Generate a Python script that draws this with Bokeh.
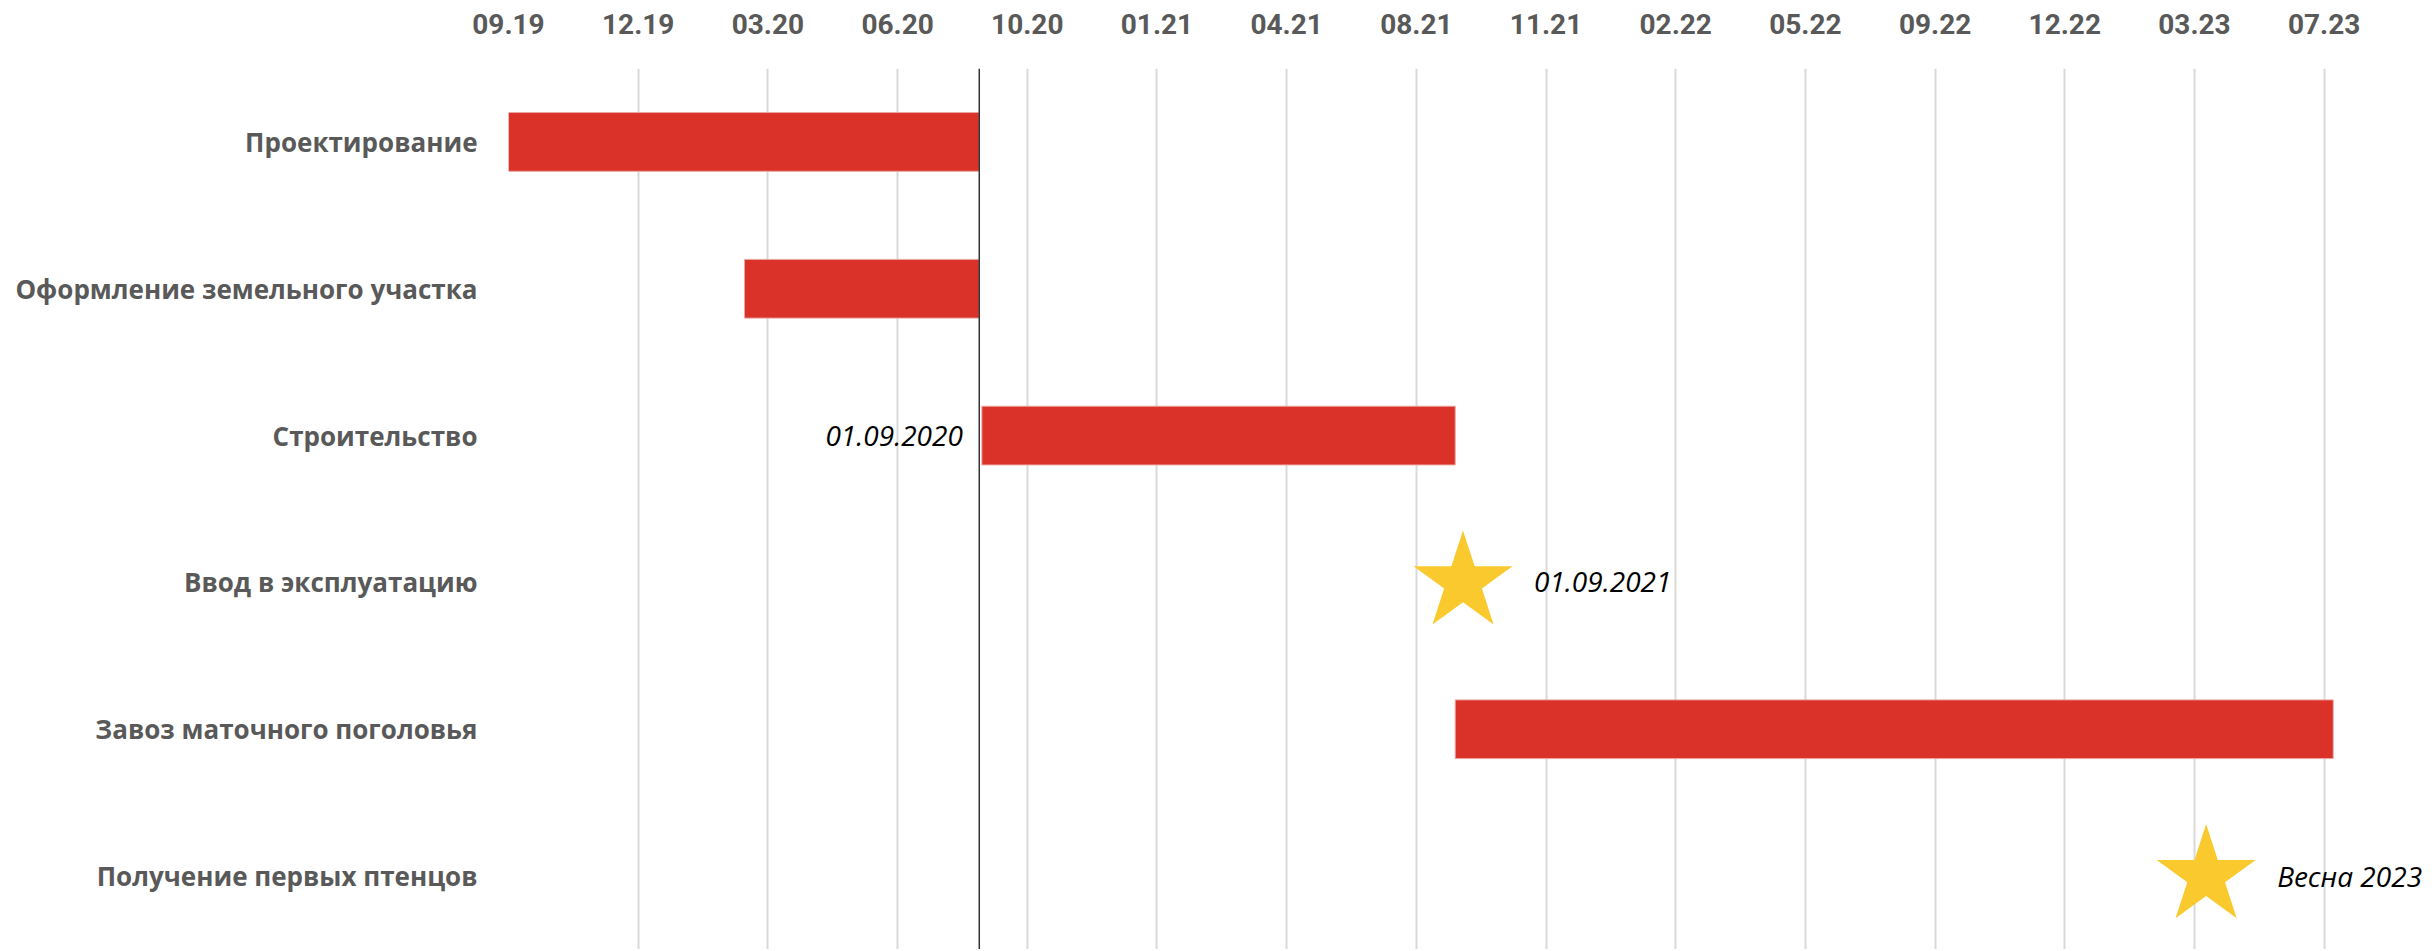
import pandas as pd
from bokeh.plotting import figure
from bokeh.models import ColumnDataSource, FactorRange, FixedTicker, Span, LabelSet, Range1d
from bokeh.core.properties import value
from bokeh.embed import file_html
from bokeh.resources import INLINE

# ---- data ----
tasks = [
    "Проектирование",
    "Оформление земельного участка",
    "Строительство",
    "Ввод в эксплуатацию",
    "Завоз маточного поголовья",
    "Получение первых птенцов",
]
bar_tasks = ["Проектирование", "Оформление земельного участка", "Строительство", "Завоз маточного поголовья"]
bar_start = ["2019-09-01", "2020-03-01", "2020-08-31", "2021-08-31"]
bar_end = ["2020-08-29", "2020-08-29", "2021-08-31", "2023-07-09"]

milestone_tasks = ["Ввод в эксплуатацию", "Получение первых птенцов"]
milestone_dates = ["2021-09-06", "2023-04-02"]
milestone_labels = ["01.09.2021", "Весна 2023"]

start_label_tasks = ["Строительство"]
start_label_dates = ["2020-08-31"]
start_label_texts = ["01.09.2020"]

marker_line_date = "2020-08-29"

axis_start = "2019-09-01"
axis_end = "2023-09-22"
tick_step_days = 100
tick_labels = ["09.19", "12.19", "03.20", "06.20", "10.20", "01.21", "04.21", "08.21",
               "11.21", "02.22", "05.22", "09.22", "12.22", "03.23", "07.23"]


def ms(d):
    return int(pd.Timestamp(d).value // 10**6)


tick_ms = [ms(pd.Timestamp(axis_start) + pd.Timedelta(days=tick_step_days * i)) for i in range(len(tick_labels))]

GREY = "#595959"
RED = "#DA3129"
YELLOW = "#FAC92E"

p = figure(
    width=2430, height=949,
    x_axis_type="datetime", x_axis_location="above",
    y_range=FactorRange(factors=list(reversed(tasks))),
    x_range=Range1d(ms(axis_start), ms(axis_end)),
    output_backend="svg", toolbar_location=None,
    min_border_left=508, min_border_right=0, min_border_top=68, min_border_bottom=0,
)
p.outline_line_color = None
p.background_fill_color = "white"

ticker = FixedTicker(ticks=tick_ms)
p.xaxis.ticker = ticker
p.xgrid.ticker = ticker
p.xaxis.major_label_overrides = {t: lab for t, lab in zip(tick_ms, tick_labels)}
p.xaxis.axis_line_color = None
p.xaxis.major_tick_line_color = None
p.xaxis.minor_tick_line_color = None
p.xaxis.major_tick_out = 0
p.xaxis.major_label_standoff = 35
p.xaxis.major_label_text_font = "Roboto"
p.xaxis.major_label_text_font_style = "bold"
p.xaxis.major_label_text_font_size = "28px"
p.xaxis.major_label_text_color = GREY

p.yaxis.axis_line_color = None
p.yaxis.major_tick_line_color = None
p.yaxis.minor_tick_line_color = None
p.yaxis.major_tick_out = 0
p.yaxis.major_label_standoff = 31
p.yaxis.major_label_text_font = "Open Sans"
p.yaxis.major_label_text_font_style = "bold"
p.yaxis.major_label_text_font_size = "26px"
p.yaxis.major_label_text_color = GREY

p.xgrid.grid_line_color = "#d9d9d9"
p.xgrid.grid_line_width = 2
p.ygrid.grid_line_color = None

bars = ColumnDataSource(dict(
    task=bar_tasks,
    start=pd.to_datetime(bar_start),
    end=pd.to_datetime(bar_end),
))
p.hbar(y="task", left="start", right="end", height=0.4, source=bars,
       fill_color=RED, line_color="#eaa6a2", line_width=1)

ms_src = ColumnDataSource(dict(
    task=milestone_tasks,
    date=pd.to_datetime(milestone_dates),
    label=milestone_labels,
))
p.scatter(x="date", y="task", source=ms_src, marker="star", size=104,
          fill_color=YELLOW, line_color=None)

p.add_layout(LabelSet(x="date", y="task", text="label", source=ms_src,
                      x_offset=71, text_baseline="middle", text_align="left",
                      text_font=value("Open Sans"), text_font_style=value("italic"),
                      text_font_size=value("28px"), text_color=value("black")))

sl_src = ColumnDataSource(dict(
    task=start_label_tasks,
    date=pd.to_datetime(start_label_dates),
    label=start_label_texts,
))
p.add_layout(LabelSet(x="date", y="task", text="label", source=sl_src,
                      x_offset=-19, text_baseline="middle", text_align="right",
                      text_font=value("Open Sans"), text_font_style=value("italic"),
                      text_font_size=value("28px"), text_color=value("black")))

p.add_layout(Span(location=ms(marker_line_date), dimension="height",
                  line_color="#333333", line_width=1.5))

open("out.html", "w").write(file_html(p, INLINE))
